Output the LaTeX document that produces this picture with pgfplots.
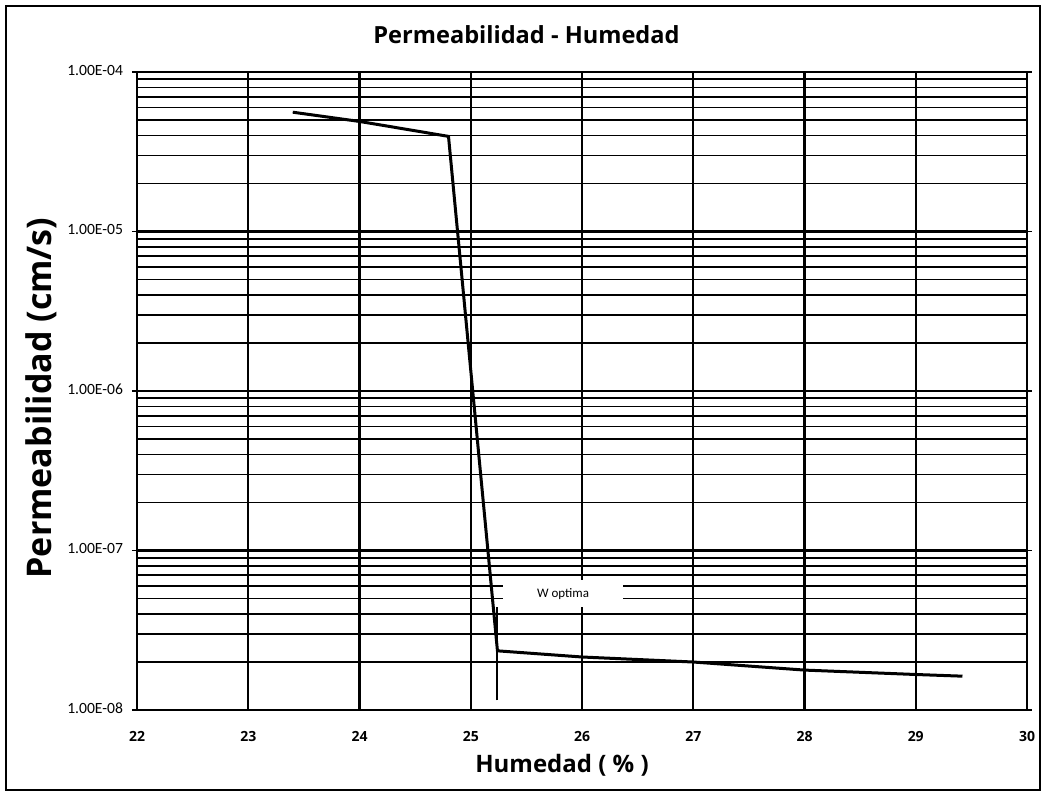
\documentclass[border=0pt]{standalone}
\usepackage{fontspec}
\setmainfont{Carlito}
\newfontfamily\labelfont{Open Sans}
\usepackage{pgfplots}
\pgfplotsset{compat=1.18}
\begin{document}
\begin{tikzpicture}
\useasboundingbox (-68.5pt,-42pt) rectangle (454pt,355pt);
\draw[line width=0.6pt] (-65.5pt,-40pt) rectangle (451.5pt,352pt);
\begin{axis}[
  at={(0pt,0pt)}, anchor=south west,
  scale only axis, width=445pt, height=319pt,
  xmin=22, xmax=30, ymode=log, ymin=1e-8, ymax=1e-4,
  xtick={22,23,24,25,26,27,28,29,30},
  xticklabels={22,23,24,25,26,27,28,29,30},
  ytick={1e-8,1e-7,1e-6,1e-5,1e-4},
  yticklabels={1.00E-08,1.00E-07,1.00E-06,1.00E-05,1.00E-04},
  typeset ticklabels with strut,
  xticklabel style={font=\labelfont\fontsize{7}{8}\selectfont\bfseries, yshift=-4pt},
  yticklabel style={font=\fontsize{7.8}{8}\selectfont, xshift=-1pt},
  xmajorgrids, ymajorgrids, yminorgrids,
  major grid style={black, line width=1.1pt},
  minor grid style={black, line width=0.9pt},
  axis line style={black, line width=1.1pt},
  x tick style={draw=none},
  y tick style={black, line width=0.8pt},
  tick align=outside, major tick length=2.5pt, minor tick length=0pt,
]
\addplot[black, line width=1.5pt] coordinates {
  (23.4,5.6e-5) (24.0,4.9e-5) (24.4,4.4e-5) (24.8,3.95e-5)
  (25.24,2.35e-8) (26.0,2.15e-8) (27.0,2.0e-8) (28.0,1.78e-8)
  (29.0,1.67e-8) (29.42,1.63e-8)
};
\addplot[black, line width=1pt] coordinates {(25.24,1.15e-8) (25.24,4.4e-8)};
\node[fill=white, inner sep=0pt, minimum width=60pt, minimum height=13.5pt,
      font=\fontsize{6.5}{7}\selectfont] at (axis cs:25.83,5.37e-8) {W optima};
\end{axis}
\node[font=\labelfont\fontsize{11.8}{13}\selectfont\bfseries] at (194.75pt,337.5pt) {Permeabilidad - Humedad};
\node[font=\labelfont\fontsize{12}{13}\selectfont\bfseries] at (212.5pt,-27.5pt) {Humedad ( \% )};
\node[font=\labelfont\fontsize{17}{18}\selectfont\bfseries, rotate=90] at (-48pt,156pt) {Permeabilidad (cm/s)};
\end{tikzpicture}
\end{document}
